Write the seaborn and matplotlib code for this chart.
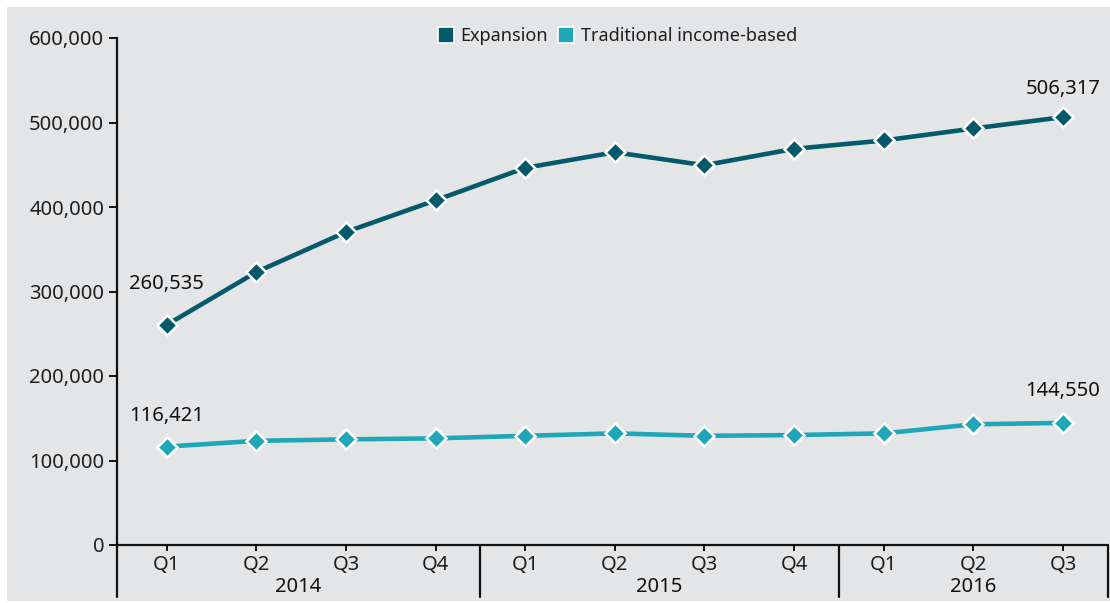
import matplotlib
matplotlib.use("Agg")
import matplotlib.pyplot as plt
from matplotlib.lines import Line2D
from matplotlib.patches import Rectangle
from matplotlib.ticker import FuncFormatter
import seaborn as sns
import pandas as pd

# Quarterly enrollment by eligibility group
quarters = ["Q1", "Q2", "Q3", "Q4", "Q1", "Q2", "Q3", "Q4", "Q1", "Q2", "Q3"]
years = ["2014", "2015", "2016"]
year_spans = [(None, 3.5), (3.5, 7.5), (7.5, None)]
expansion = [260535, 323000, 370400, 407900, 446300, 464800, 449400, 468800, 478700, 492900, 506317]
traditional = [116421, 123300, 125000, 126200, 129200, 132100, 129200, 130100, 132100, 142800, 144550]
series_names = ["Expansion", "Traditional income-based"]
colors = ["#04596a", "#1fa7b8"]

BG = "#e4e5e7"
TXT = "#1e1e1e"
FS = 14.5

sns.set_theme(style="white")
plt.rcParams["font.family"] = ["Noto Sans", "DejaVu Sans"]

df = pd.DataFrame({
    "pos": list(range(len(quarters))) * 2,
    "value": expansion + traditional,
    "series": [series_names[0]] * len(expansion) + [series_names[1]] * len(traditional),
})

fig = plt.figure(figsize=(11.10, 6.03), dpi=100, facecolor="white")
fig.patches.append(Rectangle((7 / 1110, 2 / 603), 1 - 7 / 1110, 1 - 9 / 603,
                             transform=fig.transFigure, facecolor=BG,
                             edgecolor="none", zorder=-10))
ax = fig.add_axes([116.7 / 1110, 1 - 545 / 603, (1107.7 - 116.7) / 1110, (545 - 38) / 603])
ax.set_facecolor(BG)

sns.lineplot(data=df, x="pos", y="value", hue="series", palette=colors,
             hue_order=series_names, marker="D", markersize=10,
             markeredgecolor="white", markeredgewidth=1.8, linewidth=3.3,
             legend=False, ax=ax, zorder=3)

ax.set_xlim(-0.558, 10.5)
ax.set_ylim(0, 600000)
ax.set_yticks(range(0, 600001, 100000))
ax.yaxis.set_major_formatter(FuncFormatter(lambda v, p: f"{int(v):,}"))
ax.set_xticks(range(len(quarters)))
ax.set_xticklabels(quarters)
ax.set_xlabel("")
ax.set_ylabel("")

for s in ["top", "right"]:
    ax.spines[s].set_visible(False)
for s in ["left", "bottom"]:
    ax.spines[s].set_color("#111111")
    ax.spines[s].set_linewidth(1.6)

ax.tick_params(axis="y", which="major", direction="out", length=5.5, width=1.4,
               color="#111111", labelsize=FS, labelcolor=TXT, pad=3.5, left=True)
ax.tick_params(axis="x", which="major", direction="out", length=4.5, width=1.4,
               color="#111111", labelsize=FS, labelcolor=TXT, pad=3.0, bottom=True)

# Group separators below the category axis
trans = ax.get_xaxis_transform()
sep_bottom = (545 - 597) / 507
for xpos in [ax.get_xlim()[0], 3.5, 7.5, ax.get_xlim()[1]]:
    ax.add_line(Line2D([xpos, xpos], [0, sep_bottom], transform=trans,
                       color="#111111", linewidth=1.6, clip_on=False))

lo, hi = ax.get_xlim()
for yr, (a, b) in zip(years, year_spans):
    a = lo if a is None else a
    b = hi if b is None else b
    ax.text((a + b) / 2, (545 - 586.5) / 507, yr, transform=trans, ha="center",
            va="center", fontsize=FS, color="#111111")

# Value labels on first and last points
label_offsets = {(0, 0): 29.5, (0, 1): 20, (1, 0): 22, (1, 1): 22.7}
for si, vals in enumerate([expansion, traditional]):
    for k, idx in enumerate([0, len(vals) - 1]):
        ax.annotate(f"{vals[idx]:,}", xy=(idx, vals[idx]), xytext=(0, label_offsets[(si, k)]),
                    textcoords="offset points", ha="center", va="center",
                    fontsize=FS, color="#111111")

handles = [Line2D([0], [0], marker="s", linestyle="none", markersize=11.5,
                  markerfacecolor=c, markeredgecolor="white", markeredgewidth=1.2)
           for c in colors]
ax.legend(handles, series_names, loc="center", bbox_to_anchor=(0.505, 1.004),
          ncol=2, frameon=False, fontsize=13, handletextpad=0.3,
          columnspacing=0.5, handlelength=1.0, labelcolor=TXT)

fig.savefig("out.png", dpi=100, facecolor="white")
